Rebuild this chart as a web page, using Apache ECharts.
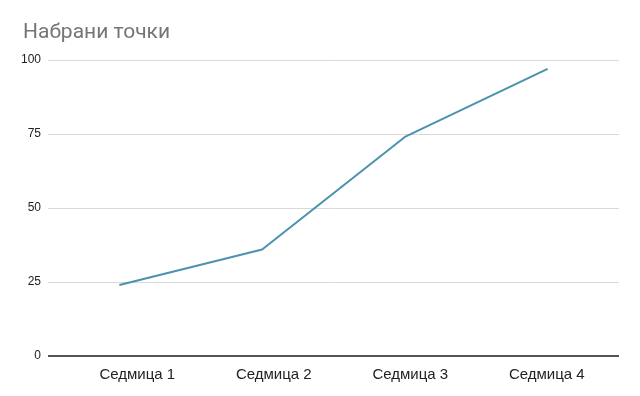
<!DOCTYPE html>
<html><head><meta charset="utf-8">
<script src="https://cdn.jsdelivr.net/npm/echarts@6/dist/echarts.min.js"></script>
<style>html,body{margin:0;padding:0;background:#fff}#c{width:640px;height:396px}</style>
</head><body><div id="c"></div>
<script>
const title = 'Набрани точки';
const categories = ['Седмица 1', 'Седмица 2', 'Седмица 3', 'Седмица 4'];
const values = [24, 36, 74, 97];
const yTicks = [0, 25, 50, 75, 100];

const chart = echarts.init(document.getElementById('c'));
chart.setOption({
  animation: false,
  title: {text: title, left: 18, top: 17, textStyle: {fontFamily: 'Roboto, Arial', fontSize: 21, fontWeight: 'normal', color: '#757575'}},
  grid: [
    {left: 48, right: 21, top: 60, bottom: 40, containLabel: false},
    {left: 69, right: 25, top: 60, bottom: 40, containLabel: false}
  ],
  xAxis: [{
    type: 'category', data: categories, boundaryGap: true, gridIndex: 0,
    axisLine: {show: false}, axisTick: {show: false}, axisLabel: {show: false}
  }, {
    type: 'category', data: categories, boundaryGap: true, gridIndex: 1,
    axisLine: {show: false}, axisTick: {show: false}, splitLine: {show: false},
    axisLabel: {color: '#222', fontSize: 15, fontFamily: 'Arial, Liberation Sans', margin: 11}
  }],
  yAxis: [{
    type: 'value', min: yTicks[0], max: yTicks[yTicks.length - 1], interval: 25, gridIndex: 0,
    axisLine: {show: false}, axisTick: {show: false},
    axisLabel: {color: '#222', fontSize: 12, fontFamily: 'Arial, Liberation Sans', margin: 7},
    splitLine: {lineStyle: {color: '#d9d9d9', width: 1}}
  }, {
    type: 'value', min: yTicks[0], max: yTicks[yTicks.length - 1], interval: 25, gridIndex: 1, show: false
  }],
  series: [{
    type: 'line', data: values, showSymbol: false, symbol: 'none', xAxisIndex: 0, yAxisIndex: 0,
    lineStyle: {color: '#4a92ad', width: 2}, itemStyle: {color: '#4a92ad'},
    markLine: {silent: true, symbol: 'none', label: {show: false},
      lineStyle: {color: '#555', width: 2, type: 'solid'}, data: [{yAxis: 0}]}
  }]
});
</script></body></html>
